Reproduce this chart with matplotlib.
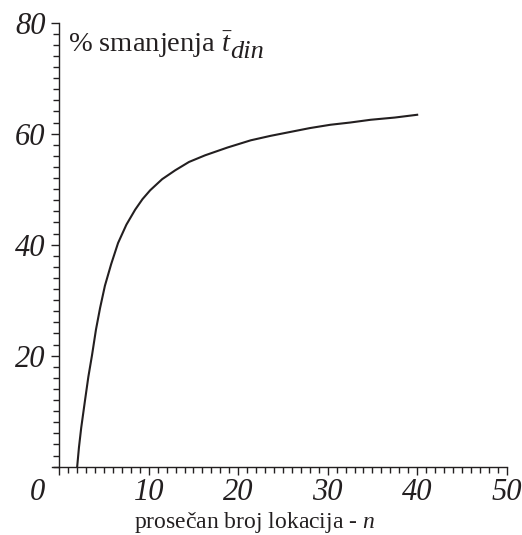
import numpy as np
import matplotlib
matplotlib.use("Agg")
import matplotlib.pyplot as plt
from matplotlib.ticker import MultipleLocator
from matplotlib.transforms import ScaledTranslation

# curve
n_avg = [2.0, 2.2, 2.45, 2.88, 3.25, 3.66, 4.1, 4.56, 5.1, 5.8, 6.57, 7.5, 8.48,
         9.3, 10.16, 11.5, 12.96, 14.5, 16.3, 18.8, 21.4, 23.6, 25.8, 28.0,
         30.3, 32.5, 34.8, 37.5, 40.0]
pct_drop = [0.0, 3.5, 7.0, 12.0, 16.2, 20.1, 24.7, 28.6, 32.6, 36.5, 40.3, 43.6, 46.3,
            48.2, 49.8, 51.8, 53.4, 54.9, 56.1, 57.5, 58.8, 59.6, 60.3, 61.0,
            61.6, 62.0, 62.5, 62.9, 63.4]

x_ticks = [0, 10, 20, 30, 40, 50]
y_ticks = [20, 40, 60, 80]

plt.rcParams['font.family'] = 'Liberation Serif'
plt.rcParams['mathtext.fontset'] = 'custom'
plt.rcParams['mathtext.rm'] = 'Liberation Serif'
plt.rcParams['mathtext.it'] = 'Liberation Serif:italic'

ink = "#231f20"

fig = plt.figure(figsize=(5.22, 5.35), dpi=100)
ax = fig.add_axes([0.099, 0.1277, 0.8716, 0.830])

ax.plot(n_avg, pct_drop, color=ink, linewidth=1.5)

ax.set_xlim(-0.85, 50)
ax.set_ylim(0, 80)
for s in ["top", "right"]:
    ax.spines[s].set_visible(False)
ax.spines["left"].set_position(("data", 0))
ax.spines["left"].set_bounds(0, 80)
ax.spines["bottom"].set_bounds(-0.85, 50)
for s in ["left", "bottom"]:
    ax.spines[s].set_linewidth(1.0)
    ax.spines[s].set_color(ink)

ax.set_xticks(x_ticks)
ax.set_yticks(y_ticks)
ax.xaxis.set_minor_locator(MultipleLocator(1))
ax.yaxis.set_minor_locator(MultipleLocator(2))
ax.tick_params(which="major", length=6, width=1.0, color=ink, direction="out")
ax.tick_params(which="minor", length=4.5, width=1.0, color=ink, direction="out")
ax.tick_params(axis="x", pad=2)
ax.tick_params(axis="y", pad=4)
for lab in ax.get_xticklabels() + ax.get_yticklabels():
    lab.set_fontstyle("italic")
    lab.set_fontsize(22)
    lab.set_color(ink)

# the 0 label sits left of the vertical axis
lab0 = ax.get_xticklabels()[0]
lab0.set_transform(lab0.get_transform() + ScaledTranslation(-0.22, 0, fig.dpi_scale_trans))

t1 = ax.text(0.036, 0.985, r"% smanjenja $\bar{t}$", transform=ax.transAxes,
             fontsize=20.5, va="top", ha="left", color=ink)
ax.annotate("din", xy=(1.0, 0.0), xycoords=t1, xytext=(-2, -2.5), textcoords="offset points",
            fontsize=19, style="italic", ha="left", va="bottom", color=ink)
fig.text(0.487, 0.0, r"prosečan broj lokacija - $n$", fontsize=17,
         ha="center", va="bottom", color=ink)

fig.savefig("out.png", dpi=100)
